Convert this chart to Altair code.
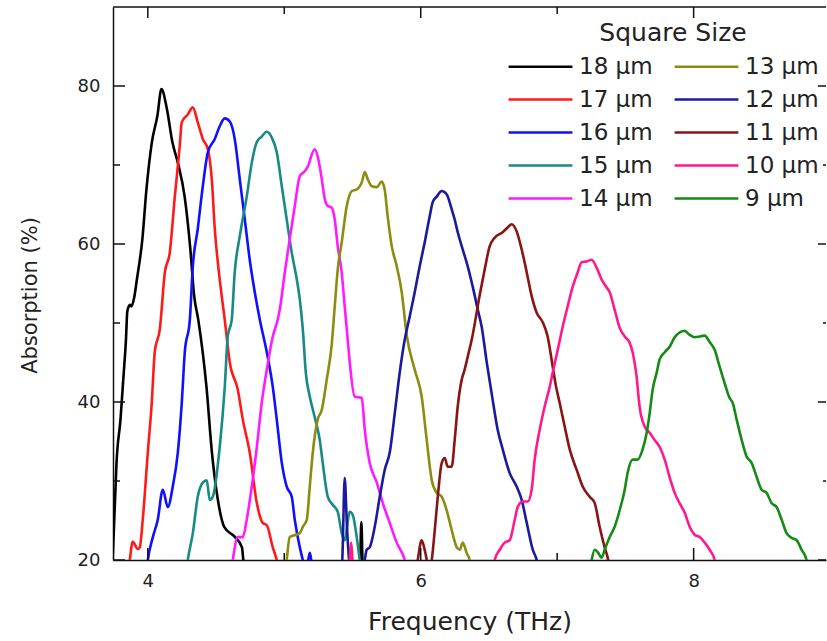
import altair as alt
import pandas as pd

# ---- data (frequency THz, absorption %) ----
f18 = [3.74, 3.76, 3.77, 3.80, 3.82, 3.84, 3.85, 3.87, 3.88, 3.90, 3.92, 3.96, 3.99, 4.03, 4.07, 4.10, 4.14, 4.18, 4.22, 4.27, 4.31, 4.34, 4.37, 4.43, 4.47, 4.51, 4.56, 4.64, 4.69, 4.70, 4.74, 5.50, 5.555, 5.565, 5.575, 5.62]
a18 = [19.0, 27.6, 32.0, 37.8, 42.8, 47.9, 51.5, 52.3, 52.1, 53.2, 55.5, 60.6, 66.9, 72.9, 76.2, 79.6, 77.1, 72.9, 70.3, 66.0, 59.7, 53.4, 50.4, 41.9, 33.6, 28.0, 24.2, 22.9, 21.6, 20.0, 17.0, 15.0, 19.0, 24.8, 19.0, 15.0]

f17 = [3.85, 3.868, 3.89, 3.927, 3.941, 3.963, 4.00, 4.029, 4.051, 4.088, 4.125, 4.161, 4.198, 4.234, 4.249, 4.293, 4.33, 4.366, 4.403, 4.44, 4.469, 4.491, 4.513, 4.542, 4.564, 4.601, 4.659, 4.696, 4.747, 4.799, 4.842, 4.872, 4.916, 4.945, 4.98]
a17 = [17.0, 20.0, 22.3, 21.4, 21.6, 25.1, 33.6, 39.9, 46.3, 49.2, 56.4, 58.9, 66.0, 72.4, 75.4, 76.4, 77.3, 75.4, 73.3, 72.0, 68.2, 61.9, 57.7, 53.4, 50.4, 45.0, 41.6, 37.8, 33.6, 27.2, 24.7, 24.4, 21.6, 20.0, 17.0]

f16 = [3.98, 4.00, 4.037, 4.073, 4.11, 4.147, 4.183, 4.22, 4.249, 4.271, 4.308, 4.33, 4.366, 4.403, 4.44, 4.491, 4.527, 4.564, 4.601, 4.637, 4.674, 4.711, 4.747, 4.784, 4.821, 4.872, 4.916, 4.945, 4.982, 5.018, 5.055, 5.077, 5.114, 5.136, 5.16, 5.187, 5.21]
a16 = [17.0, 20.0, 22.9, 25.1, 28.9, 26.7, 29.3, 33.6, 39.9, 46.3, 50.4, 57.2, 61.9, 67.3, 71.6, 73.3, 74.9, 75.9, 75.5, 73.3, 68.2, 63.1, 58.0, 53.9, 50.4, 46.3, 41.9, 37.8, 32.3, 29.3, 28.0, 25.1, 21.6, 20.0, 18.5, 20.9, 17.5]

f15 = [4.27, 4.293, 4.33, 4.366, 4.403, 4.432, 4.454, 4.476, 4.527, 4.564, 4.586, 4.615, 4.637, 4.674, 4.725, 4.762, 4.799, 4.835, 4.872, 4.908, 4.945, 4.982, 5.018, 5.055, 5.092, 5.114, 5.136, 5.158, 5.187, 5.223, 5.26, 5.282, 5.319, 5.355, 5.392, 5.421, 5.443, 5.48, 5.502, 5.531, 5.553, 5.58]
a15 = [17.0, 20.0, 23.4, 28.0, 29.8, 30.1, 27.6, 28.0, 34.3, 41.9, 48.3, 50.4, 56.4, 61.0, 66.0, 70.3, 72.9, 73.6, 74.2, 73.5, 71.6, 67.3, 63.1, 58.9, 55.5, 53.0, 49.2, 43.7, 40.7, 38.1, 35.2, 32.3, 28.0, 27.0, 26.1, 23.4, 22.5, 26.1, 25.7, 22.9, 20.0, 17.0]

f14 = [4.60, 4.623, 4.659, 4.696, 4.725, 4.762, 4.799, 4.835, 4.872, 4.916, 4.952, 4.967, 5.004, 5.04, 5.077, 5.114, 5.15, 5.172, 5.223, 5.245, 5.275, 5.297, 5.319, 5.348, 5.37, 5.392, 5.421, 5.443, 5.465, 5.48, 5.516, 5.568, 5.59, 5.626, 5.678, 5.722, 5.773, 5.824, 5.883, 5.92]
a14 = [17.0, 20.0, 22.9, 22.9, 25.1, 29.3, 34.3, 39.9, 44.1, 48.3, 50.4, 51.7, 56.4, 60.6, 64.8, 68.6, 69.2, 69.8, 72.0, 71.1, 68.2, 65.7, 64.8, 64.6, 63.1, 59.7, 56.4, 52.1, 47.9, 45.0, 40.7, 40.5, 36.5, 32.3, 29.8, 27.2, 24.7, 22.2, 20.0, 17.0]

f13 = [5.00, 5.018, 5.04, 5.114, 5.136, 5.165, 5.187, 5.209, 5.245, 5.275, 5.311, 5.348, 5.37, 5.392, 5.421, 5.458, 5.495, 5.531, 5.568, 5.59, 5.612, 5.641, 5.678, 5.714, 5.736, 5.758, 5.788, 5.824, 5.861, 5.897, 5.956, 6.007, 6.044, 6.081, 6.117, 6.154, 6.19, 6.227, 6.264, 6.286, 6.308, 6.337, 6.359, 6.39]
a13 = [17.0, 20.0, 22.9, 23.4, 24.2, 25.1, 29.3, 33.6, 37.8, 39.0, 42.8, 47.3, 52.1, 56.8, 60.2, 64.8, 66.7, 66.9, 67.8, 69.1, 68.2, 67.3, 67.2, 67.9, 66.9, 63.5, 59.7, 57.2, 53.9, 48.5, 44.1, 40.7, 35.2, 30.1, 28.5, 28.0, 26.3, 23.8, 21.6, 21.3, 22.2, 20.9, 20.0, 17.0]

f12 = [5.40, 5.425, 5.443, 5.46, 5.475, 5.50, 5.56, 5.59, 5.604, 5.626, 5.663, 5.70, 5.736, 5.773, 5.81, 5.846, 5.883, 5.919, 5.956, 5.993, 6.029, 6.066, 6.088, 6.117, 6.154, 6.19, 6.227, 6.249, 6.271, 6.308, 6.344, 6.381, 6.418, 6.447, 6.484, 6.527, 6.564, 6.601, 6.652, 6.703, 6.74, 6.777, 6.821, 6.85, 6.88]
a12 = [17.0, 20.0, 30.4, 24.0, 20.0, 17.0, 17.0, 20.0, 21.3, 21.6, 24.2, 28.0, 31.4, 33.6, 38.6, 43.7, 47.9, 50.8, 53.9, 57.2, 60.2, 63.5, 65.3, 66.0, 66.7, 66.3, 64.4, 63.1, 61.5, 59.3, 57.2, 54.6, 51.7, 49.5, 45.0, 40.3, 36.5, 34.0, 31.0, 29.3, 27.6, 24.7, 21.3, 20.0, 17.0]

f11 = [5.95, 5.978, 6.007, 6.029, 6.044, 6.06, 6.081, 6.103, 6.125, 6.154, 6.176, 6.198, 6.227, 6.249, 6.271, 6.30, 6.322, 6.344, 6.374, 6.432, 6.469, 6.505, 6.542, 6.601, 6.637, 6.667, 6.703, 6.74, 6.777, 6.813, 6.85, 6.894, 6.93, 6.967, 6.989, 7.018, 7.055, 7.092, 7.143, 7.187, 7.238, 7.275, 7.311, 7.348, 7.37, 7.40]
a11 = [17.0, 20.0, 22.5, 21.3, 20.0, 18.0, 20.0, 23.8, 28.0, 32.3, 32.9, 31.8, 31.8, 35.2, 39.4, 42.8, 44.1, 45.7, 47.9, 53.5, 56.8, 59.7, 60.8, 61.5, 62.1, 62.5, 61.6, 59.3, 56.4, 53.4, 51.3, 50.1, 48.3, 44.5, 42.2, 39.9, 36.9, 34.0, 31.4, 29.3, 28.0, 27.2, 24.2, 21.6, 20.3, 17.0]

f10 = [5.46, 5.48, 5.49, 5.50, 5.52, 6.52, 6.542, 6.579, 6.615, 6.652, 6.689, 6.711, 6.747, 6.784, 6.813, 6.835, 6.872, 6.908, 6.945, 6.967, 7.004, 7.04, 7.077, 7.114, 7.15, 7.179, 7.216, 7.253, 7.289, 7.326, 7.363, 7.385, 7.421, 7.458, 7.495, 7.531, 7.553, 7.582, 7.604, 7.641, 7.678, 7.714, 7.751, 7.788, 7.824, 7.861, 7.897, 7.934, 7.971, 8.007, 8.044, 8.081, 8.117, 8.154, 8.18]
a10 = [17.0, 20.0, 22.2, 20.0, 17.0, 17.0, 20.0, 21.3, 22.2, 22.5, 25.1, 26.7, 27.4, 27.4, 28.9, 32.7, 36.5, 39.4, 41.9, 43.7, 46.6, 49.5, 52.1, 54.6, 56.4, 57.7, 57.8, 58.0, 57.0, 55.5, 54.5, 53.9, 51.7, 49.4, 48.3, 47.5, 46.3, 43.2, 39.4, 36.9, 36.1, 35.2, 34.3, 32.7, 30.5, 28.5, 27.2, 26.0, 24.2, 23.2, 22.9, 22.2, 21.3, 20.0, 17.0]

f9 = [7.23, 7.253, 7.275, 7.297, 7.326, 7.348, 7.385, 7.421, 7.458, 7.495, 7.516, 7.553, 7.59, 7.626, 7.656, 7.678, 7.70, 7.729, 7.751, 7.788, 7.824, 7.861, 7.897, 7.934, 7.971, 8.007, 8.044, 8.081, 8.117, 8.154, 8.19, 8.227, 8.264, 8.286, 8.315, 8.352, 8.388, 8.425, 8.462, 8.498, 8.535, 8.571, 8.608, 8.645, 8.681, 8.718, 8.755, 8.791, 8.828, 8.86]
a9 = [17.0, 20.0, 21.3, 21.0, 20.3, 21.3, 22.9, 24.2, 26.3, 28.9, 31.0, 32.7, 32.7, 34.0, 36.1, 38.6, 41.6, 43.7, 45.4, 46.3, 47.0, 48.2, 48.8, 49.0, 48.5, 48.2, 48.3, 48.4, 47.6, 46.6, 44.5, 42.4, 40.5, 39.9, 37.8, 35.2, 33.1, 32.3, 30.5, 28.9, 28.5, 27.2, 26.7, 25.1, 23.4, 22.8, 22.5, 21.3, 20.0, 17.0]

# legend order (column-wise, 2 columns) and colours
series_names = ["18 μm", "17 μm", "16 μm", "15 μm", "14 μm", "13 μm", "12 μm", "11 μm", "10 μm", "\u20079 μm"]
series_colors = ["#000000", "#ff1a1a", "#1010ff", "#178a86", "#ff1aff", "#8c8c10", "#1a1a9c", "#8a1414", "#ff1a8c", "#168a16"]
series_f = [f18, f17, f16, f15, f14, f13, f12, f11, f10, f9]
series_a = [a18, a17, a16, a15, a14, a13, a12, a11, a10, a9]

x_major = [4, 6, 8]
x_minor = [5, 7]
y_major = [20, 40, 60, 80]
y_minor = [30, 50, 70]
x_dom = [3.745, 8.97]
y_dom = [20, 90]

rows = []
for name, fs, as_ in zip(series_names, series_f, series_a):
    for i, (f, a) in enumerate(zip(fs, as_)):
        rows.append({"series": name, "f": f, "a": a, "i": i})
df = pd.DataFrame(rows)

W, H = 713, 553
FONT = "DejaVu Sans"
TXT = "#222222"
xs = alt.Scale(domain=x_dom, nice=False, zero=False)
ys = alt.Scale(domain=y_dom, nice=False, zero=False)
px_x = (x_dom[1] - x_dom[0]) / W
px_y = (y_dom[1] - y_dom[0]) / H

lines = alt.Chart(df).mark_line(strokeWidth=2.6, clip=True, interpolate="monotone").encode(
    x=alt.X("f:Q", scale=xs, title="Frequency (THz)",
            axis=alt.Axis(values=x_major, format="d", ticks=False, tickSize=0, grid=False,
                          labelFontSize=18, labelPadding=12, labelFont=FONT, labelColor=TXT,
                          titleFontSize=25, titleFont=FONT, titleFontWeight="normal", titleColor=TXT,
                          titlePadding=19, domainColor="#111111", domainWidth=1.5)),
    y=alt.Y("a:Q", scale=ys, title="Absorption (%)",
            axis=alt.Axis(values=y_major, format="d", ticks=False, tickSize=0, grid=False,
                          labelFontSize=18, labelPadding=13, labelFont=FONT, labelColor=TXT,
                          titleFontSize=21, titleFont=FONT, titleFontWeight="normal", titleColor=TXT,
                          titleX=-83, titleY=288, titleAlign="center", titleBaseline="middle",
                          domainColor="#111111", domainWidth=1.5)),
    color=alt.Color("series:N", sort=series_names,
                    scale=alt.Scale(domain=series_names, range=series_colors),
                    legend=alt.Legend(title="Square Size", orient="none", legendX=415, legendY=14,
                                      columns=2, symbolType="M-2.9,0H2.9", symbolSize=484,
                                      symbolStrokeWidth=2.5, labelFontSize=23, labelFont=FONT,
                                      labelColor=TXT, titleFontSize=25, titleFont=FONT,
                                      titleFontWeight="normal", titleColor=TXT, titleAnchor="middle",
                                      rowPadding=8, columnPadding=16, labelOffset=26, padding=0,
                                      titlePadding=8, labelLimit=300)),
    order=alt.Order("i:Q"),
)

def vticks(vals, y0, y1):
    d = pd.DataFrame({"f": vals})
    return alt.Chart(d).mark_rule(color="#111111", strokeWidth=1.5).encode(
        x=alt.X("f:Q", scale=xs), y=alt.datum(y0), y2=alt.datum(y1))

def hticks(vals, x0, x1):
    d = pd.DataFrame({"a": vals})
    return alt.Chart(d).mark_rule(color="#111111", strokeWidth=1.5).encode(
        y=alt.Y("a:Q", scale=ys), x=alt.datum(x0), x2=alt.datum(x1))

top_border = alt.Chart(pd.DataFrame({"a": [y_dom[1]]})).mark_rule(color="#111111", strokeWidth=1.5).encode(
    y=alt.Y("a:Q", scale=ys), x=alt.datum(x_dom[0]), x2=alt.datum(x_dom[1]))

layers = [
    lines,
    top_border,
    vticks(x_major, y_dom[0], y_dom[0] + 12 * px_y),
    vticks(x_minor, y_dom[0], y_dom[0] + 7 * px_y),
    vticks(x_major, y_dom[1], y_dom[1] - 11 * px_y),
    vticks(x_minor, y_dom[1], y_dom[1] - 7 * px_y),
    hticks(y_major, x_dom[0], x_dom[0] + 12 * px_x),
    hticks(y_minor, x_dom[0], x_dom[0] + 7 * px_x),
    hticks(y_major, x_dom[1], x_dom[1] - 8 * px_x),
    hticks(y_minor, x_dom[1], x_dom[1] - 3 * px_x),
]

chart = alt.layer(*layers).properties(
    width=W, height=H,
    autosize=alt.AutoSizeParams(type="none"),
    padding={"left": 113, "top": 7, "right": 1, "bottom": 81},
    background="white",
).configure_view(strokeWidth=0)

chart.save("out.html", embed_options={"renderer": "svg", "actions": False})
